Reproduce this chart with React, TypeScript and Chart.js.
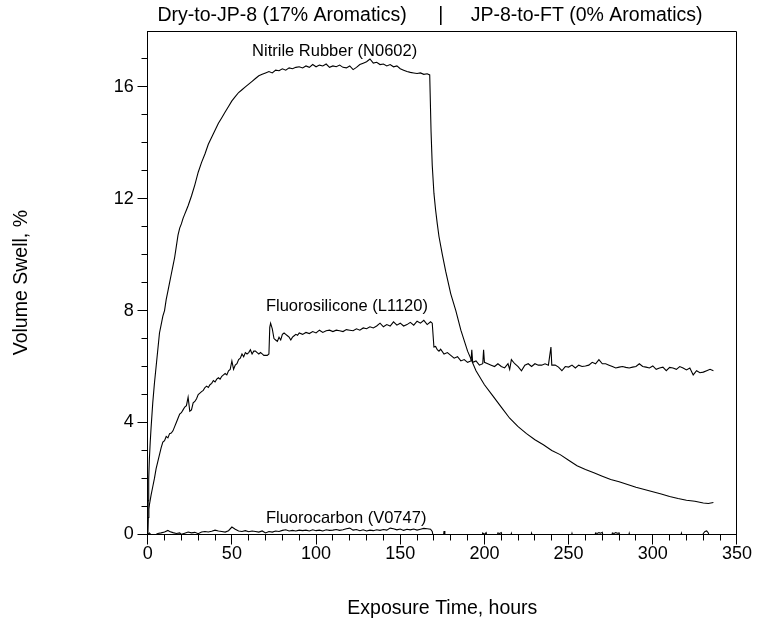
import React, { useEffect, useRef } from "react";
import { Chart, registerables } from "chart.js";

Chart.register(...registerables);

const FONT = "'Liberation Sans', Arial, Helvetica, sans-serif";

// ---------- data (hours, volume swell %) ----------
const nitrileHours = [
  0, 0.3, 0.6, 1, 1.5, 2, 3, 4, 5, 6, 7, 8, 9, 10, 11, 12, 13, 14, 15, 16, 17, 18, 19, 20,
  21, 22, 23, 24, 26, 28, 30, 32, 34, 36, 38, 40, 42, 44, 46, 48, 50, 52, 54, 56, 58, 60,
  62, 64, 66, 68, 70, 72, 74, 76, 78, 80, 82, 84, 86, 88, 90, 92, 94, 96, 98, 100, 102,
  104, 106, 108, 110, 112, 114, 116, 118, 120, 122, 124, 126, 128, 130, 132, 134, 136,
  138, 140, 142, 144, 146, 148, 150, 152, 154, 156, 158, 160, 162, 164, 166, 167.5,
  168.3, 169, 170, 171, 172, 173, 175, 177, 180, 183, 186, 190, 195, 200, 205, 210, 215,
  220, 225, 230, 235, 240, 245, 250, 255, 260, 265, 270, 275, 280, 285, 290, 295, 300,
  305, 310, 315, 320, 325, 330, 333, 336,
];
const nitrileSwell = [
  0, 1.2, 2.0, 2.7, 3.3, 3.8, 4.7, 5.4, 6.0, 6.6, 7.2, 7.5, 7.8, 8.0, 8.4, 8.7, 9.0, 9.3,
  9.6, 9.9, 10.3, 10.7, 10.95, 11.1, 11.3, 11.45, 11.6, 11.75, 12.1, 12.5, 12.95, 13.3,
  13.6, 13.95, 14.2, 14.45, 14.7, 14.9, 15.1, 15.3, 15.5, 15.65, 15.8, 15.9, 16.0, 16.1,
  16.2, 16.3, 16.4, 16.45, 16.5, 16.55, 16.5, 16.6, 16.58, 16.65, 16.6, 16.68, 16.65,
  16.7, 16.72, 16.68, 16.75, 16.7, 16.8, 16.72, 16.78, 16.75, 16.82, 16.7, 16.75, 16.72,
  16.78, 16.7, 16.68, 16.75, 16.62, 16.7, 16.8, 16.85, 16.9, 17.0, 16.85, 16.88, 16.8,
  16.82, 16.75, 16.8, 16.72, 16.75, 16.65, 16.6, 16.55, 16.52, 16.5, 16.48, 16.5, 16.45,
  16.47, 16.43, 14.4, 13.2, 12.2, 11.6, 11.1, 10.65, 10.0, 9.4, 8.6, 8.0, 7.3, 6.55,
  5.85, 5.35, 4.95, 4.55, 4.15, 3.85, 3.6, 3.38, 3.2, 3.0, 2.85, 2.65, 2.45, 2.32, 2.2,
  2.08, 1.96, 1.88, 1.78, 1.68, 1.6, 1.52, 1.44, 1.35, 1.28, 1.22, 1.18, 1.12, 1.1, 1.14,
];

const siliconeHours = [
  0, 0.3, 0.7, 1, 2, 3, 4, 5, 6, 7, 8, 9, 10, 11, 12, 13, 14, 15, 16, 17, 18, 19, 20, 21,
  22, 23, 24, 25, 26, 27, 28, 29, 30, 31, 32, 33, 34, 35, 36, 37, 38, 39, 40, 41, 42, 43,
  44, 45, 46, 47, 48, 49, 50, 51, 52, 53, 54, 55, 56, 57, 58, 59, 60, 61, 62, 63, 64, 65,
  66, 67, 68, 69, 70, 71, 72, 72.5, 73, 74, 75, 76, 77, 78, 79, 80, 81, 82, 83, 84, 85, 86,
  87, 88, 89, 90, 92, 94, 96, 98, 100, 102, 104, 106, 108, 110, 112, 114, 116, 118, 120,
  122, 124, 126, 128, 130, 132, 134, 136, 138, 140, 142, 144, 146, 148, 150, 152, 154,
  156, 158, 160, 162, 164, 166, 168, 169, 170, 171, 172, 173, 174, 176, 178, 180, 182,
  184, 186, 188, 190, 192, 192.5, 193, 195, 197, 199, 199.5, 200, 202, 204, 206, 208, 210,
  212, 214, 215, 216, 218, 220, 222, 224, 226, 228, 230, 232, 234, 236, 238, 239.5, 240,
  242, 244, 246, 248, 250, 252, 254, 256, 258, 260, 262, 264, 266, 268, 270, 272, 274,
  276, 278, 280, 282, 284, 286, 288, 290, 292, 294, 296, 298, 300, 302, 304, 306, 308,
  310, 312, 314, 316, 318, 320, 322, 324, 326, 328, 330, 332, 334, 336,
];
const siliconeSwell = [
  0, 0.6, 0.9, 1.05, 1.4, 1.7, 2.0, 2.35, 2.6, 2.85, 3.1, 3.3, 3.35, 3.5, 3.45, 3.6, 3.62,
  3.7, 3.85, 4.0, 4.15, 4.3, 4.35, 4.45, 4.55, 4.6, 4.9, 4.4, 4.45, 4.7, 4.75, 4.85, 5.0,
  5.05, 5.1, 5.15, 5.25, 5.3, 5.25, 5.35, 5.4, 5.5, 5.45, 5.55, 5.6, 5.55, 5.65, 5.7,
  5.75, 5.7, 5.85, 5.9, 6.2, 5.9, 6.05, 6.1, 6.25, 6.3, 6.45, 6.35, 6.5, 6.45, 6.5, 6.6,
  6.45, 6.55, 6.55, 6.5, 6.45, 6.5, 6.45, 6.4, 6.4, 6.4, 6.45, 7.4, 7.55, 7.35, 7.0, 6.95,
  6.9, 7.05, 6.95, 7.15, 7.2, 7.15, 7.1, 7.05, 6.95, 7.05, 7.1, 7.15, 7.12, 7.2, 7.15,
  7.22, 7.18, 7.25, 7.2, 7.3, 7.22, 7.28, 7.3, 7.25, 7.3, 7.28, 7.25, 7.32, 7.3, 7.28,
  7.35, 7.3, 7.38, 7.35, 7.42, 7.38, 7.45, 7.55, 7.42, 7.5, 7.45, 7.6, 7.48, 7.55, 7.45,
  7.5, 7.58, 7.48, 7.62, 7.55, 7.65, 7.5, 7.6, 7.55, 6.7, 6.72, 6.6, 6.55, 6.62, 6.45,
  6.5, 6.4, 6.3, 6.35, 6.2, 6.25, 6.15, 6.2, 6.6, 6.15, 6.2, 6.05, 6.1, 6.6, 6.15, 6.1,
  6.05, 6.0, 6.1, 6.0, 5.95, 6.1, 5.9, 6.25, 6.1, 6.0, 5.85, 6.05, 6.1, 6.0, 6.1, 6.05,
  6.05, 6.1, 6.05, 6.7, 6.05, 6.05, 5.98, 5.85, 6.0, 5.98, 6.05, 5.95, 6.05, 6.0, 6.02,
  6.05, 6.15, 6.1, 6.25, 6.1, 6.1, 6.05, 6.0, 5.95, 5.98, 6.0, 5.97, 5.95, 5.98, 6.0, 6.1,
  6.0, 5.98, 5.95, 6.02, 5.9, 5.95, 5.98, 5.85, 5.97, 5.95, 5.9, 6.0, 5.95, 5.88, 5.95,
  5.7, 5.85, 5.78, 5.8, 5.85, 5.9, 5.85,
];

const carbonHours = [
  0, 1, 2, 4, 6, 8, 10, 12, 13, 15, 17, 19, 20, 22, 24, 26, 28, 30, 32, 34, 36, 38, 40, 42,
  44, 46, 48, 50, 52, 54, 56, 58, 60, 62, 64, 66, 68, 70, 72, 74, 76, 78, 80, 82, 84, 86,
  88, 90, 92, 94, 96, 98, 100, 102, 104, 106, 108, 110, 112, 114, 116, 118, 120, 122, 124,
  126, 128, 130, 132, 134, 136, 138, 140, 142, 144, 146, 148, 150, 152, 154, 156, 158,
  160, 162, 164, 166, 168, 169, 170, 175.5, 176, 176.5, 198, 199, 200, 201, 202, 207, 208,
  209, 210, 211, 215, 216, 217, 227, 228, 229, 251, 252, 253, 265, 266, 267, 268, 269, 270,
  271, 275, 276, 277, 278, 279, 280, 281, 285, 286, 287, 316, 317, 318, 329, 330, 331, 332,
  333, 334, 336,
];
const carbonSwell = [
  0, 0.05, -0.02, -0.03, 0.03, 0.05, 0.08, 0.14, 0.1, 0.06, 0.03, 0.05, 0.0, 0.04, 0.08,
  0.05, 0.07, 0.02, 0.08, 0.1, 0.08, 0.11, 0.15, 0.12, 0.1, 0.08, 0.13, 0.26, 0.18, 0.12,
  0.1, 0.13, 0.09, 0.12, 0.1, 0.08, 0.12, 0.05, 0.1, 0.08, 0.12, 0.1, 0.14, 0.16, 0.12,
  0.14, 0.12, 0.15, 0.13, 0.15, 0.12, 0.16, 0.13, 0.15, 0.12, 0.16, 0.14, 0.15, 0.17,
  0.14, 0.16, 0.2, 0.22, 0.15, 0.17, 0.13, 0.16, 0.12, 0.15, 0.13, 0.16, 0.14, 0.17, 0.15,
  0.22, 0.2, 0.16, 0.19, 0.14, 0.18, 0.16, 0.19, 0.15, 0.18, 0.21, 0.2, 0.18, 0.1, -0.2,
  -0.2, 0.12, -0.2, -0.2, 0.05, 0.0, 0.06, -0.2, -0.2, 0.05, 0.03, 0.06, -0.2, -0.2, 0.03,
  -0.2, -0.2, 0.04, -0.2, -0.2, 0.03, -0.2, -0.2, 0.05, 0.03, 0.06, 0.04, 0.07, -0.2,
  -0.2, 0.05, 0.03, 0.06, 0.04, 0.05, -0.2, -0.2, 0.04, -0.2, -0.2, 0.04, -0.2, -0.2,
  0.03, 0.1, 0.12, 0.05, -0.2, -0.2,
];

const titleLeft = "Dry-to-JP-8 (17% Aromatics)";
const titleRight = "JP-8-to-FT (0% Aromatics)";
const switchHour = 174; // where the "|" separator sits in the title

const seriesLabels = ["Nitrile Rubber (N0602)", "Fluorosilicone (L1120)", "Fluorocarbon (V0747)"];
const labelHours = [62, 70.2, 70.2];
const labelSwell = [17.1, 7.97, 0.42];

const xAxisTitle = "Exposure Time, hours";
const yAxisTitle = "Volume Swell, %";

const toPoints = (xs: number[], ys: number[]) => xs.map((x, i) => ({ x, y: ys[i] }));

const align = (p: number) => Math.round(p - 0.5) + 0.5;

const decorPlugin = {
  id: "decor",
  afterDraw(chart: any) {
    const { ctx, chartArea: a, scales } = chart;
    const xs = scales.x;
    const ys = scales.y;
    ctx.save();
    ctx.strokeStyle = "#000";
    ctx.lineWidth = 1;
    ctx.beginPath();
    // top and right frame
    const L = align(a.left);
    const R = align(a.right);
    const T = align(a.top);
    const B = align(a.bottom);
    ctx.moveTo(L, T);
    ctx.lineTo(R, T);
    ctx.lineTo(R, B);
    // x tick marks
    xs.ticks.forEach((t: any) => {
      const px = align(xs.getPixelForValue(t.value));
      const len = t.value % 50 === 0 ? 10 : 6;
      ctx.moveTo(px, B);
      ctx.lineTo(px, B + len);
    });
    // y tick marks
    ys.ticks.forEach((t: any) => {
      if (t.value >= 18) return;
      const py = align(ys.getPixelForValue(t.value));
      const len = t.value % 4 === 0 ? 10 : 6;
      ctx.moveTo(L, py);
      ctx.lineTo(L - len, py);
    });
    ctx.stroke();

    // series labels
    ctx.fillStyle = "#000";
    ctx.font = `16.5px ${FONT}`;
    ctx.textBaseline = "alphabetic";
    ctx.textAlign = "left";
    seriesLabels.forEach((txt, i) => {
      ctx.fillText(txt, xs.getPixelForValue(labelHours[i]), ys.getPixelForValue(labelSwell[i]));
    });

    // header
    const bar = xs.getPixelForValue(switchHour);
    ctx.font = `19.5px ${FONT}`;
    ctx.textAlign = "right";
    ctx.fillText(titleLeft, bar - 34, 20.5);
    ctx.textAlign = "center";
    ctx.fillText("|", bar, 20.5);
    ctx.textAlign = "left";
    ctx.fillText(titleRight, bar + 30, 20.5);
    ctx.restore();
  },
};

export default function App() {
  const ref = useRef<HTMLCanvasElement | null>(null);

  useEffect(() => {
    if (!ref.current) return;
    const line = (data: any[]) => ({
      data,
      borderColor: "#000",
      backgroundColor: "#000",
      borderWidth: 1.1,
      pointRadius: 0,
      tension: 0,
      fill: false,
      clip: { left: 5, top: 5, right: 5, bottom: 0 },
    });
    const chart = new Chart(ref.current, {
      type: "line",
      data: {
        datasets: [
          { label: seriesLabels[0], ...line(toPoints(nitrileHours, nitrileSwell)) },
          { label: seriesLabels[1], ...line(toPoints(siliconeHours, siliconeSwell)) },
          { label: seriesLabels[2], ...line(toPoints(carbonHours, carbonSwell)) },
        ],
      },
      options: {
        animation: false,
        responsive: false,
        devicePixelRatio: 1,
        layout: { padding: { top: 31, right: 19.3, left: 0, bottom: 0 } },
        plugins: {
          legend: { display: false },
          tooltip: { enabled: false },
          title: { display: false },
        },
        scales: {
          x: {
            type: "linear",
            min: 0,
            max: 350,
            afterFit: (s: any) => {
              s.height = 89.7;
            },
            grid: { display: false, drawTicks: false },
            border: { display: true, color: "#000", width: 1 },
            ticks: {
              stepSize: 10,
              autoSkip: false,
              maxRotation: 0,
              padding: 9,
              color: "#000",
              font: { family: FONT, size: 18 },
              callback: (v: any) => (Number(v) % 50 === 0 ? String(v) : ""),
            },
            title: {
              display: true,
              text: xAxisTitle,
              color: "#000",
              font: { family: FONT, size: 19.5 },
              padding: { top: 0, bottom: 3.4 },
            },
          },
          y: {
            type: "linear",
            min: 0,
            max: 18,
            afterFit: (s: any) => {
              s.width = 147.7;
            },
            grid: { display: false, drawTicks: false },
            border: { display: true, color: "#000", width: 1 },
            ticks: {
              stepSize: 1,
              autoSkip: false,
              padding: 14,
              color: "#000",
              font: { family: FONT, size: 18 },
              callback: (v: any) => (Number(v) % 4 === 0 && Number(v) < 18 ? String(v) : ""),
            },
            title: {
              display: true,
              text: yAxisTitle,
              color: "#000",
              font: { family: FONT, size: 19.5 },
              padding: { top: 10, bottom: 0 },
            },
          },
        },
      },
      plugins: [decorPlugin],
    });
    return () => chart.destroy();
  }, []);

  return (
    <div style={{ position: "fixed", left: 0, top: 0, width: 761, height: 624, background: "#fff" }}>
      <canvas ref={ref} width={761} height={624} style={{ width: 761, height: 624 }} />
    </div>
  );
}
